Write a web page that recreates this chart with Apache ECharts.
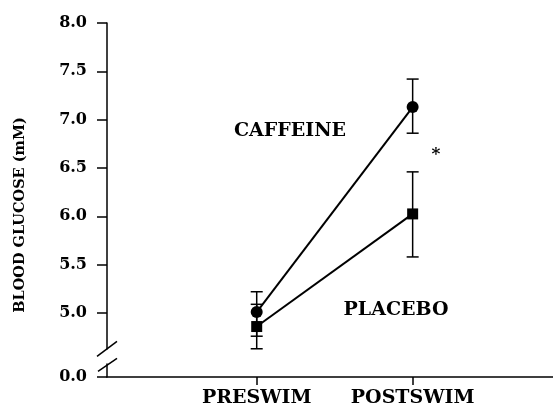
<!DOCTYPE html>
<html>
<head>
<meta charset="utf-8">
<script src="https://cdn.jsdelivr.net/npm/echarts@6/dist/echarts.min.js"></script>
<style>
html,body{margin:0;padding:0;background:#fff;}
#c{width:553px;height:408px;}
</style>
</head>
<body>
<div id="c"></div>
<script>
// ---- data ----
const categories = ['PRESWIM', 'POSTSWIM'];
const categoryX = [1, 2];
const caffeineMean = [5.01, 7.13];
const caffeineLow = [4.76, 6.86];
const caffeineHigh = [5.22, 7.42];
const placeboMean = [4.86, 6.025];
const placeboLow = [4.63, 5.58];
const placeboHigh = [5.09, 6.46];
const yTickValues = [5.0, 5.5, 6.0, 6.5, 7.0, 7.5, 8.0];
const yBreakBottom = 4.338;      // axis position that represents 0.0 below the break
const yBreakLabel = '0.0';
const yAxisTitle = 'BLOOD GLUCOSE (mM)';
const labelCaffeine = 'CAFFEINE';
const labelPlacebo = 'PLACEBO';
const sigMark = '*';

const FONT = '"DejaVu Serif", "Liberation Serif", serif';
const chart = echarts.init(document.getElementById('c'), null, {renderer: 'canvas'});

const caffeineData = categoryX.map((x, i) => [x, caffeineMean[i]]);
const placeboData = categoryX.map((x, i) => [x, placeboMean[i]]);
const caffeineErr = categoryX.map((x, i) => [x, caffeineLow[i], caffeineHigh[i]]);
const placeboErr = categoryX.map((x, i) => [x, placeboLow[i], placeboHigh[i]]);

function renderErr(params, api) {
  const x = api.value(0), lo = api.value(1), hi = api.value(2);
  const p1 = api.coord([x, hi]), p2 = api.coord([x, lo]);
  const w = 6;
  const style = {stroke: '#000', lineWidth: 1.5, fill: null};
  return {type: 'group', children: [
    {type: 'line', shape: {x1: p1[0], y1: p1[1], x2: p2[0], y2: p2[1]}, style: style},
    {type: 'line', shape: {x1: p1[0] - w, y1: p1[1], x2: p1[0] + w, y2: p1[1]}, style: style},
    {type: 'line', shape: {x1: p2[0] - w, y1: p2[1], x2: p2[0] + w, y2: p2[1]}, style: style}
  ]};
}

const yCustom = [yBreakBottom].concat(yTickValues);

chart.setOption({
  animation: false,
  backgroundColor: '#fff',
  grid: {left: 107, right: 0, top: 23, bottom: 31, containLabel: false},
  xAxis: {
    type: 'value', min: 0.04, max: 2.9,
    splitLine: {show: false},
    axisLine: {show: true, lineStyle: {color: '#000', width: 1.5}},
    axisTick: {show: true, customValues: categoryX, length: 8, lineStyle: {color: '#000', width: 1.5}},
    axisLabel: {
      customValues: categoryX, margin: 12,
      formatter: v => categories[categoryX.indexOf(v)] || '',
      color: '#000', fontFamily: FONT, fontWeight: 'bold', fontSize: 19
    }
  },
  yAxis: {
    type: 'value', min: yBreakBottom, max: 8,
    splitLine: {show: false},
    axisLine: {show: true, lineStyle: {color: '#000', width: 1.5}},
    axisTick: {show: true, customValues: yCustom, length: 10, lineStyle: {color: '#000', width: 1.5}},
    axisLabel: {
      customValues: yCustom, margin: 20,
      formatter: v => (v < 4.5 ? yBreakLabel : v.toFixed(1)),
      color: '#000', fontFamily: FONT, fontWeight: 'bold', fontSize: 16
    }
  },
  series: [
    {type: 'custom', renderItem: renderErr, data: caffeineErr, encode: {x: 0, y: [1, 2]}, z: 2},
    {type: 'custom', renderItem: renderErr, data: placeboErr, encode: {x: 0, y: [1, 2]}, z: 2},
    {type: 'line', data: caffeineData, symbol: 'circle', symbolSize: 12, z: 3,
     itemStyle: {color: '#000'}, lineStyle: {color: '#000', width: 2}},
    {type: 'line', data: placeboData, symbol: 'rect', symbolSize: 11, z: 3,
     itemStyle: {color: '#000'}, lineStyle: {color: '#000', width: 2}}
  ]
});

// decorations: axis break marks, annotations, axis title
const bx = chart.convertToPixel({gridIndex: 0}, [0.04, 4.6]);
const ax = bx[0];
const yMid = chart.convertToPixel({gridIndex: 0}, [0.04, 4.54])[1];
const lineSt = {stroke: '#000', lineWidth: 1.5};
chart.setOption({
  graphic: [
    {type: 'rect', shape: {x: ax - 3, y: yMid - 8, width: 6, height: 14}, style: {fill: '#fff'}, z: 10},
    {type: 'line', shape: {x1: ax - 10, y1: yMid - 1, x2: ax + 10, y2: yMid - 16}, style: lineSt, z: 11},
    {type: 'line', shape: {x1: ax - 9, y1: yMid + 14, x2: ax + 10, y2: yMid + 1}, style: lineSt, z: 11},
    {type: 'text', x: 20, y: 215, rotation: Math.PI / 2,
     style: {text: yAxisTitle, fill: '#000', font: 'bold 14.5px ' + FONT, align: 'center', verticalAlign: 'middle'}, z: 12},
    {type: 'text', x: 290, y: 131,
     style: {text: labelCaffeine, fill: '#000', font: 'bold 19px ' + FONT, align: 'center', verticalAlign: 'middle'}, z: 12},
    {type: 'text', x: 396, y: 310,
     style: {text: labelPlacebo, fill: '#000', font: 'bold 19px ' + FONT, align: 'center', verticalAlign: 'middle'}, z: 12},
    {type: 'text', x: 436, y: 155,
     style: {text: sigMark, fill: '#000', font: 'bold 17px ' + FONT, align: 'center', verticalAlign: 'middle'}, z: 12}
  ]
});
</script>
</body>
</html>
